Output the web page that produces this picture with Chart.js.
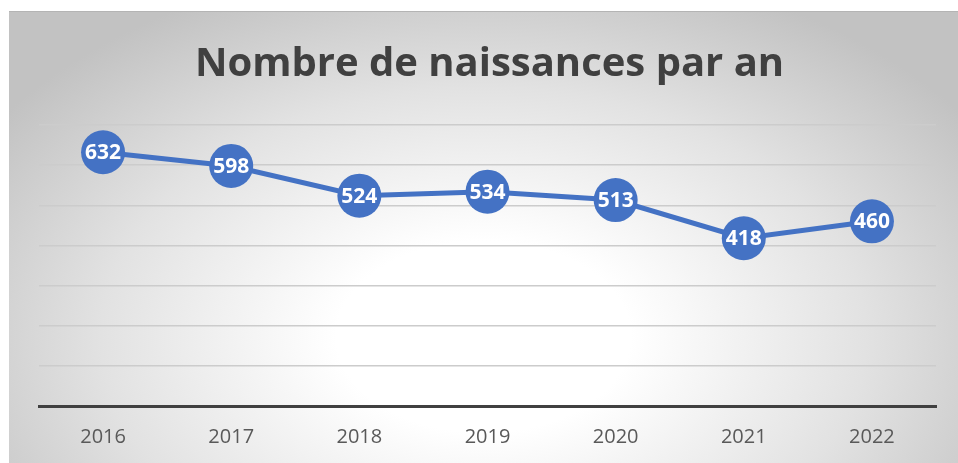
<!DOCTYPE html>
<html>
<head>
<meta charset="utf-8">
<script src="https://cdn.jsdelivr.net/npm/chart.js@4"></script>
<style>
  body { margin: 0; background: #fff; }
  #box {
    position: absolute; left: 9px; top: 11px; width: 949px; height: 452px;
    border-top: 1px solid #b4b4b4; box-sizing: border-box;
    background: radial-gradient(ellipse 62% 85% at 50% 72%, #ffffff 0%, #ffffff 25%, #e2e2e2 65%, #c2c2c2 100%);
  }
</style>
</head>
<body>
<div id="box"><canvas id="naissances"></canvas></div>
<script>
const annees = ['2016', '2017', '2018', '2019', '2020', '2021', '2022'];
const naissances = [632, 598, 524, 534, 513, 418, 460];

// étiquettes blanches au centre des points
const etiquettes = {
  id: 'etiquettes',
  afterDatasetsDraw(chart) {
    const ctx = chart.ctx;
    const meta = chart.getDatasetMeta(0);
    ctx.save();
    ctx.fillStyle = '#ffffff';
    ctx.font = 'bold 21px "Open Sans"';
    ctx.textAlign = 'center';
    ctx.textBaseline = 'middle';
    meta.data.forEach((pt, i) => {
      ctx.fillText(naissances[i], pt.x, pt.y + 1);
    });
    ctx.restore();
  }
};

new Chart(document.getElementById('naissances'), {
  type: 'line',
  data: {
    labels: annees,
    datasets: [{
      data: naissances,
      borderColor: '#4472C4',
      borderWidth: 5,
      pointRadius: 22,
      pointHoverRadius: 22,
      pointBackgroundColor: '#4472C4',
      pointBorderWidth: 0,
      tension: 0
    }]
  },
  options: {
    responsive: true,
    maintainAspectRatio: false,
    animation: false,
    events: [],
    layout: { padding: { left: 30, right: 18, bottom: 0, top: 0 } },
    plugins: {
      legend: { display: false },
      tooltip: { enabled: false },
      title: {
        display: true,
        text: 'Nombre de naissances par an',
        color: '#404040',
        font: { family: 'Open Sans', size: 40, weight: 'bold' },
        padding: { top: 29, bottom: 36 }
      }
    },
    scales: {
      x: {
        offset: true,
        afterFit: scale => { scale.height = 57; },
        grid: { display: false, drawTicks: false },
        border: { display: true, color: '#404040', width: 3 },
        ticks: { color: '#595959', padding: 19, font: { family: 'Open Sans', size: 20 } }
      },
      y: {
        min: 0,
        max: 700,
        ticks: { display: false, stepSize: 100 },
        grid: {
          drawTicks: false,
          color: ctx => ctx.tick && ctx.tick.value === 0 ? 'rgba(0,0,0,0)' : '#cccccc',
          lineWidth: 1.5
        },
        border: { display: false }
      }
    }
  },
  plugins: [etiquettes]
});
</script>
</body>
</html>
